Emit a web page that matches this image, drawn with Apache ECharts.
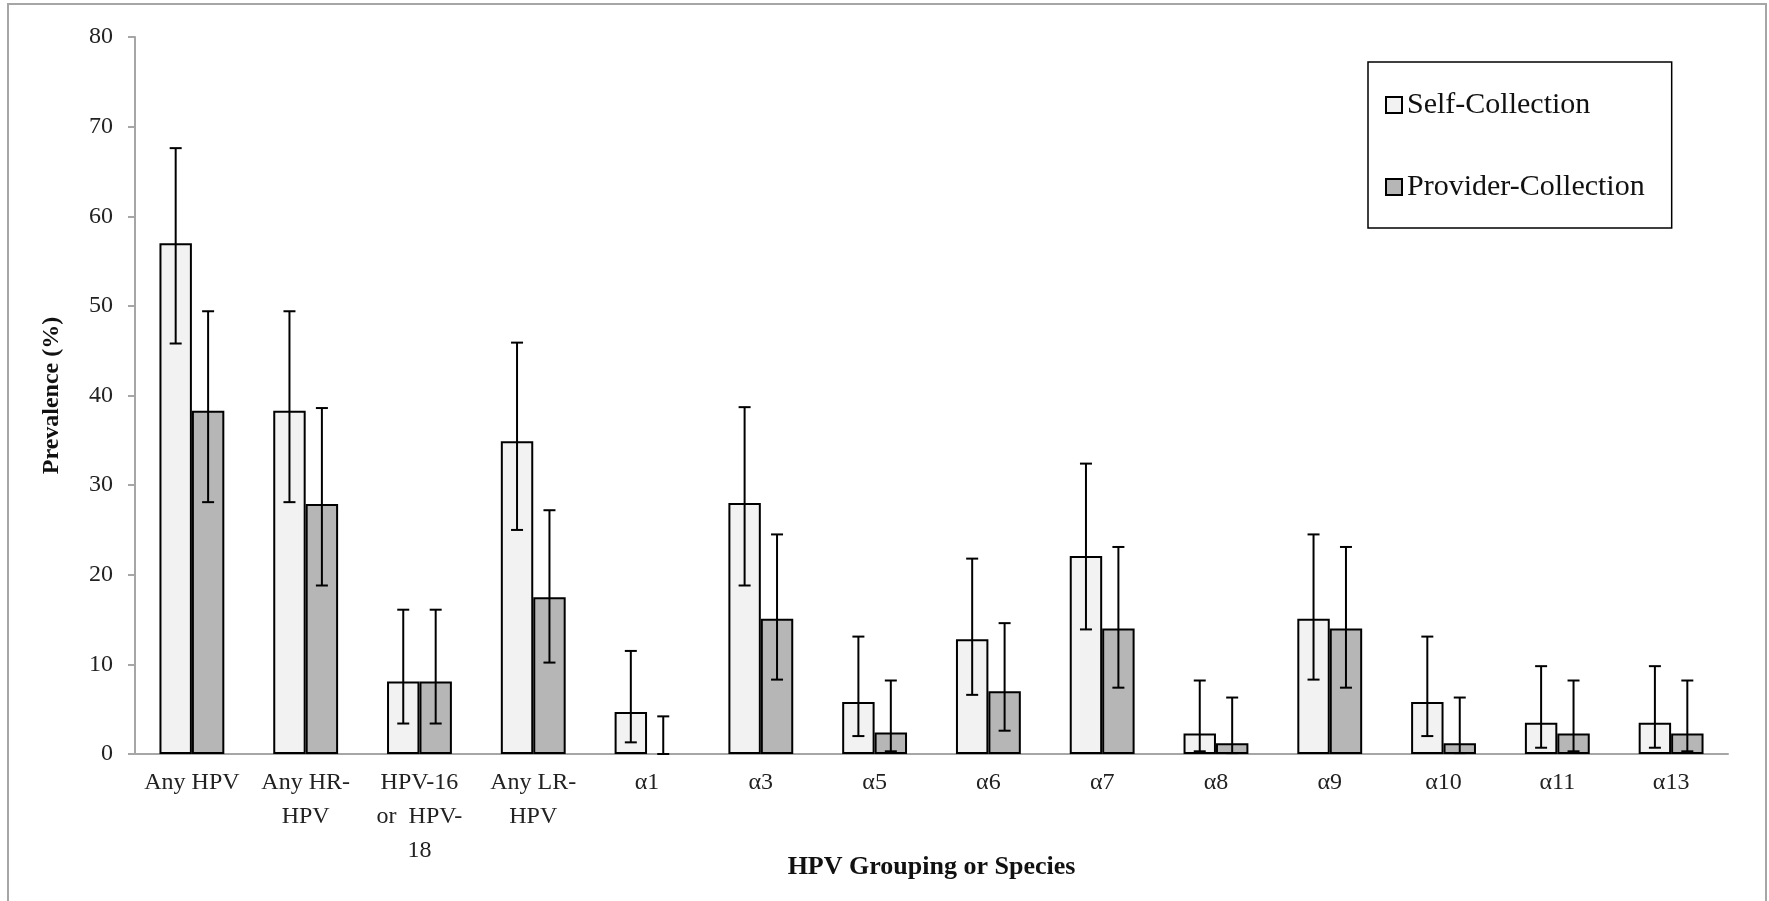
<!DOCTYPE html>
<html lang="en">
	<head>
		<meta charset="UTF-8">
		<title>HPV prevalence</title>
		<style type="text/css">
			html,
			body {
				width: 100%;
				height: 100%;
				margin: 0;
				padding: 0;
				background: #fff;
			}

			#main {
				width: 1769px;
				height: 901px;
			}
		</style>
	</head>
	<body>
		<div id="main"></div>

		<script src="https://cdn.jsdelivr.net/npm/echarts@6/dist/echarts.min.js"></script>
		<script type="text/javascript">
			const categories = ['Any HPV', 'Any HR-\nHPV', 'HPV-16\nor  HPV-\n18', 'Any LR-\nHPV', 'α1', 'α3', 'α5', 'α6', 'α7', 'α8', 'α9', 'α10', 'α11', 'α13'];

			const selfValues = [57.0, 38.3, 8.1, 34.9, 4.7, 28.0, 5.8, 12.8, 22.1, 2.3, 15.1, 5.8, 3.5, 3.5];
			const selfLow = [45.8, 28.1, 3.4, 25.0, 1.3, 18.8, 2.0, 6.6, 13.9, 0.3, 8.3, 2.0, 0.7, 0.7];
			const selfHigh = [67.6, 49.4, 16.1, 45.9, 11.5, 38.7, 13.1, 21.8, 32.4, 8.2, 24.5, 13.1, 9.8, 9.8];

			const providerValues = [38.3, 27.9, 8.1, 17.5, 0, 15.1, 2.4, 7.0, 14.0, 1.2, 14.0, 1.2, 2.3, 2.3];
			const providerLow = [28.1, 18.8, 3.4, 10.2, 0, 8.3, 0.3, 2.6, 7.4, 0.1, 7.4, 0.1, 0.3, 0.3];
			const providerHigh = [49.4, 38.6, 16.1, 27.2, 4.2, 24.5, 8.2, 14.6, 23.1, 6.3, 23.1, 6.3, 8.2, 8.2];

			const yTicks = [0, 10, 20, 30, 40, 50, 60, 70, 80];

			const font = '"Liberation Serif", "DejaVu Serif", serif';
			const catGap = 0.43;

			// a zero-height bar should not leave a black stroke on the axis
			function barData(values) {
				return values.map(v => v === 0 ? { value: v, itemStyle: { borderWidth: 0 } } : v);
			}

			// error bars drawn as a custom series, shifted onto each bar of the pair
			function errorBars(low, high, side) {
				return {
					type: 'custom',
					z: 5,
					silent: true,
					data: low.map((v, i) => [i, v, high[i]]),
					encode: { x: 0, y: [1, 2] },
					renderItem: function(params, api) {
						const band = api.size([1, 0])[0];
						const bw = band * (1 - catGap) / 2;
						const lo = api.coord([api.value(0), api.value(1)]);
						const hi = api.coord([api.value(0), api.value(2)]);
						const x = lo[0] + side * bw / 2;
						const cap = 6;
						const style = { stroke: '#000', lineWidth: 2 };
						return {
							type: 'group',
							children: [
								{ type: 'line', shape: { x1: x, y1: hi[1], x2: x, y2: lo[1] }, style },
								{ type: 'line', shape: { x1: x - cap, y1: hi[1], x2: x + cap, y2: hi[1] }, style },
								{ type: 'line', shape: { x1: x - cap, y1: lo[1], x2: x + cap, y2: lo[1] }, style }
							]
						};
					}
				};
			}

			var myChart = echarts.init(document.getElementById('main'));
			var option = {
				animation: false,
				textStyle: { fontFamily: font },
				graphic: [{
					type: 'rect',
					shape: { x: 8, y: 4, width: 1758, height: 920 },
					style: { fill: 'none', stroke: '#a6a6a6', lineWidth: 2 },
					silent: true
				}],
				grid: {
					left: 135,
					right: 41,
					top: 37,
					bottom: 147
				},
				legend: {
					data: ['Self-Collection', 'Provider-Collection'],
					orient: 'vertical',
					left: 1368,
					top: 62,
					icon: 'rect',
					itemWidth: 16,
					itemHeight: 16,
					itemGap: 52,
					padding: [28, 27, 26, 17],
					borderColor: '#000',
					borderWidth: 1.5,
					textStyle: { fontFamily: font, fontSize: 30, color: '#111' }
				},
				xAxis: {
					type: 'category',
					data: categories,
					name: 'HPV Grouping or Species',
					nameLocation: 'middle',
					nameGap: 100,
					nameMoveOverlap: false,
					nameTextStyle: { fontFamily: font, fontSize: 26, fontWeight: 'bold', color: '#111' },
					axisLine: { lineStyle: { color: '#a6a6a6', width: 2 } },
					axisTick: { length: 8, lineStyle: { color: '#a6a6a6', width: 2 } },
					axisLabel: {
						interval: 0,
						fontFamily: font,
						fontSize: 24,
						color: '#222',
						margin: 12,
						lineHeight: 34
					}
				},
				yAxis: {
					type: 'value',
					min: 0,
					max: 80,
					interval: 10,
					name: 'Prevalence (%)',
					nameLocation: 'middle',
					nameGap: 71,
					nameMoveOverlap: false,
					nameTextStyle: { fontFamily: font, fontSize: 24, fontWeight: 'bold', color: '#111' },
					axisLine: { show: true, lineStyle: { color: '#a6a6a6', width: 2 } },
					axisTick: { show: true, length: 7, lineStyle: { color: '#a6a6a6', width: 2 } },
					splitLine: { show: false },
					axisLabel: {
						fontFamily: font,
						fontSize: 24,
						color: '#222',
						margin: 22,
						formatter: v => yTicks.includes(v) ? String(v) : ''
					}
				},
				series: [{
						name: 'Self-Collection',
						type: 'bar',
						data: barData(selfValues),
						barGap: '0%',
						barCategoryGap: (catGap * 100) + '%',
						itemStyle: { color: '#f2f2f2', borderColor: '#000', borderWidth: 2 }
					},
					{
						name: 'Provider-Collection',
						type: 'bar',
						data: barData(providerValues),
						barGap: '0%',
						barCategoryGap: (catGap * 100) + '%',
						itemStyle: { color: '#b6b6b6', borderColor: '#000', borderWidth: 2 }
					},
					errorBars(selfLow, selfHigh, -1),
					errorBars(providerLow, providerHigh, 1)
				]
			};

			myChart.setOption(option);
		</script>
	</body>
</html>
